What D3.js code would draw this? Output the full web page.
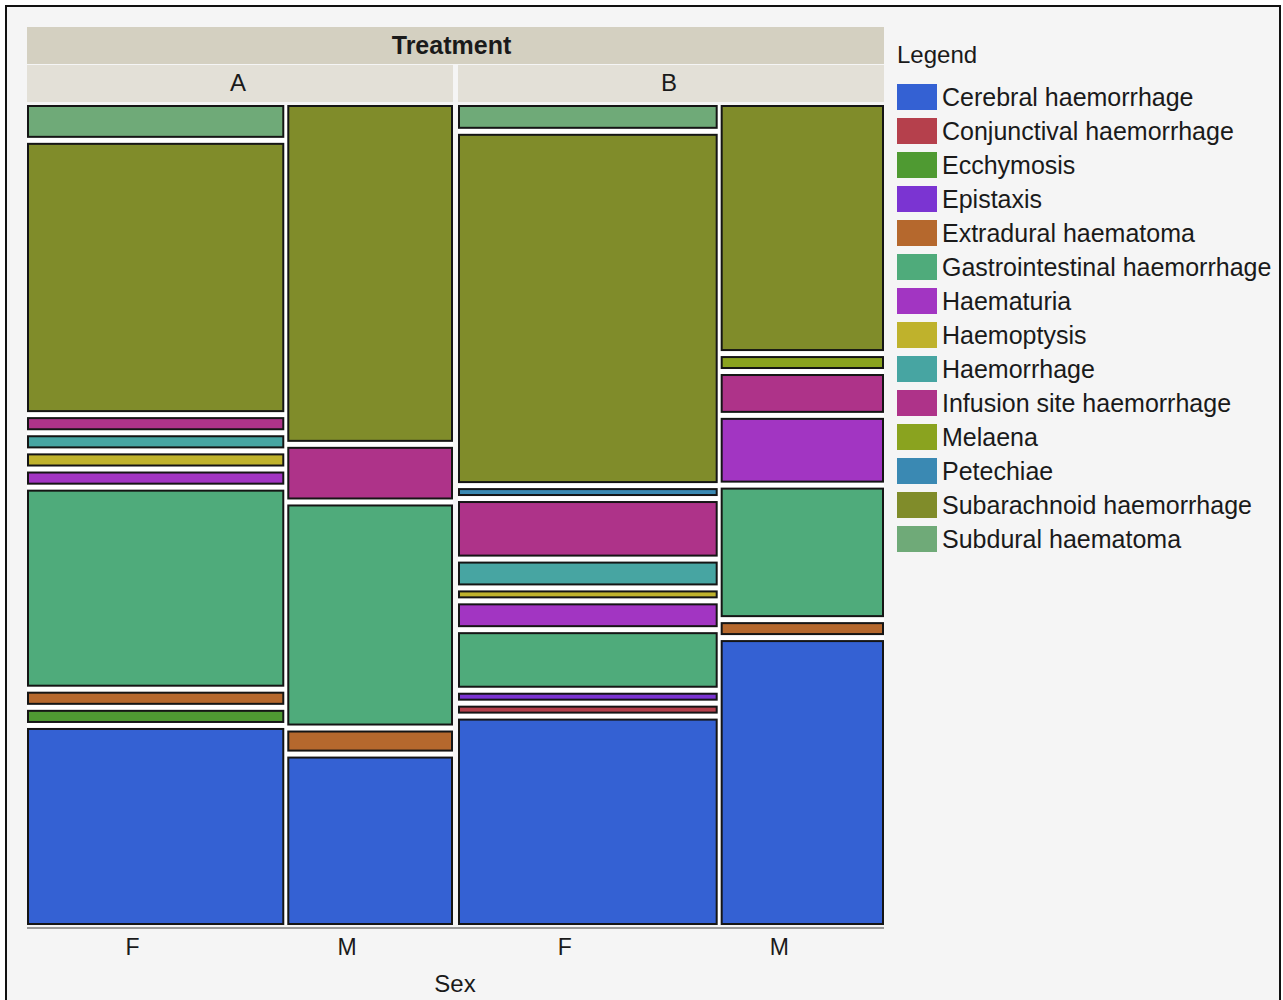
<!DOCTYPE html>
<html>
<head>
<meta charset="utf-8">
<script src="https://cdn.jsdelivr.net/npm/d3@7"></script>
<style>
  body { margin: 0; background: #fff; }
  text { font-family: "Liberation Sans", Arial, sans-serif; fill: #1a1a1a; }
</style>
</head>
<body>
<div id="chart"></div>
<script>
// event types, in legend / stacking order (bottom to top)
const categories = [
  "Cerebral haemorrhage", "Conjunctival haemorrhage", "Ecchymosis", "Epistaxis",
  "Extradural haematoma", "Gastrointestinal haemorrhage", "Haematuria", "Haemoptysis",
  "Haemorrhage", "Infusion site haemorrhage", "Melaena", "Petechiae",
  "Subarachnoid haemorrhage", "Subdural haematoma"
];
const colors = [
  "#3461d3", "#b5404c", "#4f9a32", "#7b34d2", "#b5682d", "#4fab7b", "#a235c2",
  "#bfb22c", "#47a5a2", "#ae3389", "#8aa31f", "#3a89b3", "#808c2a", "#6faa78"
];
const treatments = ["A", "B"];
const sexes = ["F", "M"];

// counts per category (same order as categories)
const countsAF = [30, 0, 2, 0, 2, 30, 2, 2, 2, 2, 0, 0, 41, 5];
const countsAM = [16, 0, 0, 0, 2, 21, 0, 0, 0, 5, 0, 0, 32, 0];
const countsBF = [26, 1, 0, 1, 0, 7, 3, 1, 3, 7, 0, 1, 44, 3];
const countsBM = [22, 0, 0, 0, 1, 10, 5, 0, 0, 3, 1, 0, 19, 0];

const counts = {
  A: { F: countsAF, M: countsAM },
  B: { F: countsBF, M: countsBM }
};

const W = 1283, H = 1000;
const plot = { left: 27, right: 884, top: 105, bottom: 925 };
const panelGap = 5, colGap = 3, cellGap = 5;

const svg = d3.select("#chart")
  .append("svg")
  .attr("width", W)
  .attr("height", H);

// outer frame
svg.append("rect")
  .attr("x", 6).attr("y", 6)
  .attr("width", 1274).attr("height", 1010)
  .attr("fill", "#f5f5f5")
  .attr("stroke", "#111")
  .attr("stroke-width", 2);

const color = d3.scaleOrdinal().domain(categories).range(colors);

const panelX = d3.scaleBand()
  .domain(treatments)
  .range([plot.left, plot.right + panelGap])
  .paddingInner(0);

// strips
svg.append("rect")
  .attr("x", plot.left).attr("y", 27)
  .attr("width", plot.right - plot.left).attr("height", 37)
  .attr("fill", "#d4d0c1");

svg.append("text")
  .attr("x", (plot.left + plot.right) / 2 - 4)
  .attr("y", 45)
  .attr("dy", "0.35em")
  .attr("text-anchor", "middle")
  .style("font-size", "25px")
  .style("font-weight", "bold")
  .text("Treatment");

treatments.forEach(t => {
  const x0 = panelX(t), pw = panelX.bandwidth() - panelGap;
  svg.append("rect")
    .attr("x", x0).attr("y", 65)
    .attr("width", pw).attr("height", 37)
    .attr("fill", "#e3e0d7");
  svg.append("text")
    .attr("x", x0 + pw / 2 - 2)
    .attr("y", 83)
    .attr("dy", "0.35em")
    .attr("text-anchor", "middle")
    .style("font-size", "24px")
    .text(t);
});

// panels
treatments.forEach(t => {
  const x0 = panelX(t), pw = panelX.bandwidth() - panelGap;
  const totals = sexes.map(s => d3.sum(counts[t][s]));
  const x = d3.scaleLinear()
    .domain([0, d3.sum(totals)])
    .range([0, pw - colGap * (sexes.length - 1)]);

  svg.append("rect")
    .attr("x", x0).attr("y", plot.top)
    .attr("width", pw).attr("height", plot.bottom - plot.top)
    .attr("fill", "#fff");

  let cx = x0;
  sexes.forEach((s, si) => {
    const cw = x(totals[si]);
    const cells = counts[t][s]
      .map((v, i) => ({ cat: categories[i], value: v }))
      .filter(d => d.value > 0);
    const avail = (plot.bottom - plot.top) - cellGap * (cells.length - 1);
    const y = d3.scaleLinear().domain([0, totals[si]]).range([0, avail]);

    let yb = plot.bottom;
    cells.forEach(d => {
      d.h = y(d.value);
      d.y = yb - d.h;
      yb = d.y - cellGap;
    });

    svg.append("g")
      .selectAll("rect")
      .data(cells)
      .join("rect")
      .attr("x", cx + 1)
      .attr("y", d => d.y + 1)
      .attr("width", cw - 2)
      .attr("height", d => Math.max(d.h - 2, 0.5))
      .attr("fill", d => color(d.cat))
      .attr("stroke", "#151515")
      .attr("stroke-width", 2);

    // sex label (sits a little left of the column centre, as in the original)
    svg.append("text")
      .attr("x", cx + cw / 2 - 23)
      .attr("y", 947)
      .attr("dy", "0.35em")
      .attr("text-anchor", "middle")
      .style("font-size", "23px")
      .text(s);

    cx += cw + colGap;
  });
});

// bottom rule
svg.append("line")
  .attr("x1", plot.left).attr("x2", plot.right)
  .attr("y1", 928).attr("y2", 928)
  .attr("stroke", "#9a9a9a")
  .attr("stroke-width", 2);

svg.append("text")
  .attr("x", 455)
  .attr("y", 984)
  .attr("dy", "0.35em")
  .attr("text-anchor", "middle")
  .style("font-size", "24px")
  .text("Sex");

// legend
const legend = svg.append("g").attr("transform", "translate(897,0)");

legend.append("text")
  .attr("x", 0).attr("y", 55)
  .attr("dy", "0.35em")
  .style("font-size", "24px")
  .text("Legend");

const item = legend.selectAll("g.item")
  .data(categories)
  .join("g")
  .attr("class", "item")
  .attr("transform", (d, i) => `translate(0,${97 + i * 34})`);

item.append("rect")
  .attr("x", 0).attr("y", -13)
  .attr("width", 40).attr("height", 26)
  .attr("fill", d => color(d));

item.append("text")
  .attr("x", 45).attr("y", 0)
  .attr("dy", "0.35em")
  .style("font-size", "25px")
  .text(d => d);
</script>
</body>
</html>
